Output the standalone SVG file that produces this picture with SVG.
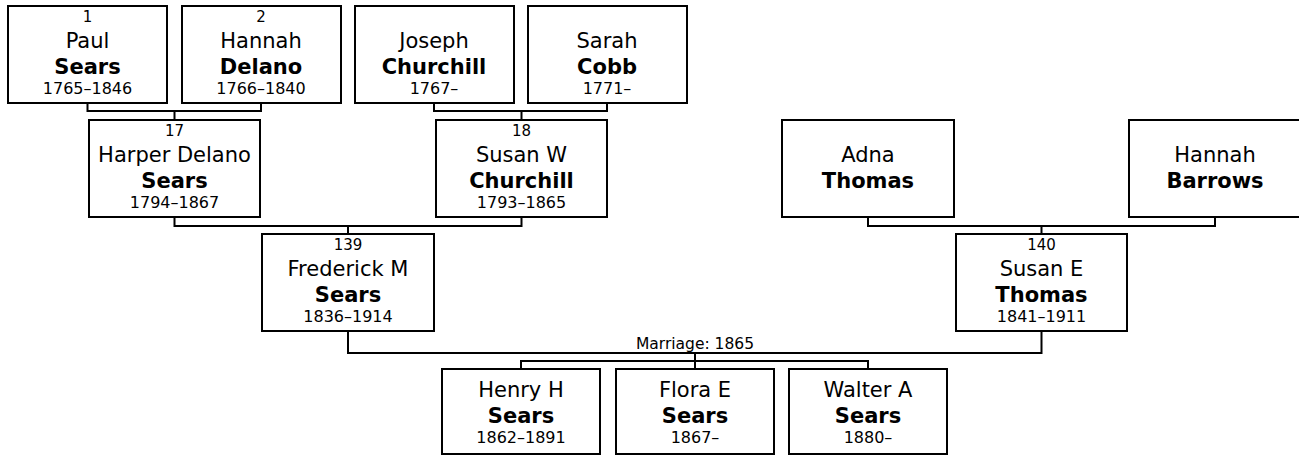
<svg xmlns="http://www.w3.org/2000/svg" width="1299" height="456" viewBox="0 0 1299 456">
<style>
  .box { fill: #ffffff; stroke: #000000; stroke-width: 2; }
  .link { fill: none; stroke: #000000; stroke-width: 2; }
  text { font-family: "DejaVu Sans", Verdana, sans-serif; fill: #000000; text-anchor: middle; }
  .num { font-size: 15px; }
  .given { font-size: 21px; }
  .sur { font-size: 21px; font-weight: bold; }
  .dates { font-size: 16px; }
  .label { font-size: 15.5px; }
</style>
<rect x="0" y="0" width="1299" height="456" fill="#ffffff"/>
<g id="connectors">
  <path class="link" d="M87.5,104 V111 H261 V104 M174.5,111 V120"/>
  <path class="link" d="M434,104 V111 H607 V104 M521.5,111 V120"/>
  <path class="link" d="M174.5,217 V226 H521.5 V217 M348,226 V234"/>
  <path class="link" d="M868,217 V226 H1215 V217 M1041.5,226 V234"/>
  <path class="link" d="M348,332 V353 H1041.5 V332"/>
  <path class="link" d="M695,353 V361 M521,369 V361 H868 V369 M695,361 V369"/>
  <text class="label" x="695" y="349">Marriage: 1865</text>
</g>
<g id="p1">
  <rect class="box" x="8" y="6" width="159" height="97"/>
  <text class="num" x="87.5" y="22">1</text>
  <text class="given" x="87.5" y="48">Paul</text>
  <text class="sur" x="87.5" y="74">Sears</text>
  <text class="dates" x="87.5" y="94">1765–1846</text>
</g>
<g id="p2">
  <rect class="box" x="182" y="6" width="159" height="97"/>
  <text class="num" x="261" y="22">2</text>
  <text class="given" x="261" y="48">Hannah</text>
  <text class="sur" x="261" y="74">Delano</text>
  <text class="dates" x="261" y="94">1766–1840</text>
</g>
<g id="p3">
  <rect class="box" x="355" y="6" width="159" height="97"/>
  <text class="given" x="434" y="48">Joseph</text>
  <text class="sur" x="434" y="74">Churchill</text>
  <text class="dates" x="434" y="94">1767–</text>
</g>
<g id="p4">
  <rect class="box" x="528" y="6" width="159" height="97"/>
  <text class="given" x="607" y="48">Sarah</text>
  <text class="sur" x="607" y="74">Cobb</text>
  <text class="dates" x="607" y="94">1771–</text>
</g>
<g id="p17">
  <rect class="box" x="89" y="120" width="171" height="97"/>
  <text class="num" x="174.5" y="136">17</text>
  <text class="given" x="174.5" y="162">Harper Delano</text>
  <text class="sur" x="174.5" y="188">Sears</text>
  <text class="dates" x="174.5" y="208">1794–1867</text>
</g>
<g id="p18">
  <rect class="box" x="436" y="120" width="171" height="97"/>
  <text class="num" x="521.5" y="136">18</text>
  <text class="given" x="521.5" y="162">Susan W</text>
  <text class="sur" x="521.5" y="188">Churchill</text>
  <text class="dates" x="521.5" y="208">1793–1865</text>
</g>
<g id="adna">
  <rect class="box" x="782" y="120" width="172" height="97"/>
  <text class="given" x="868" y="162">Adna</text>
  <text class="sur" x="868" y="188">Thomas</text>
</g>
<g id="hannahb">
  <rect class="box" x="1129" y="120" width="172" height="97"/>
  <text class="given" x="1215" y="162">Hannah</text>
  <text class="sur" x="1215" y="188">Barrows</text>
</g>
<g id="p139">
  <rect class="box" x="262" y="234" width="172" height="97"/>
  <text class="num" x="348" y="250">139</text>
  <text class="given" x="348" y="276">Frederick M</text>
  <text class="sur" x="348" y="302">Sears</text>
  <text class="dates" x="348" y="322">1836–1914</text>
</g>
<g id="p140">
  <rect class="box" x="956" y="234" width="171" height="97"/>
  <text class="num" x="1041.5" y="250">140</text>
  <text class="given" x="1041.5" y="276">Susan E</text>
  <text class="sur" x="1041.5" y="302">Thomas</text>
  <text class="dates" x="1041.5" y="322">1841–1911</text>
</g>
<g id="henry">
  <rect class="box" x="442" y="369" width="158" height="85"/>
  <text class="given" x="521" y="397">Henry H</text>
  <text class="sur" x="521" y="423">Sears</text>
  <text class="dates" x="521" y="443">1862–1891</text>
</g>
<g id="flora">
  <rect class="box" x="616" y="369" width="158" height="85"/>
  <text class="given" x="695" y="397">Flora E</text>
  <text class="sur" x="695" y="423">Sears</text>
  <text class="dates" x="695" y="443">1867–</text>
</g>
<g id="walter">
  <rect class="box" x="789" y="369" width="158" height="85"/>
  <text class="given" x="868" y="397">Walter A</text>
  <text class="sur" x="868" y="423">Sears</text>
  <text class="dates" x="868" y="443">1880–</text>
</g>
</svg>
